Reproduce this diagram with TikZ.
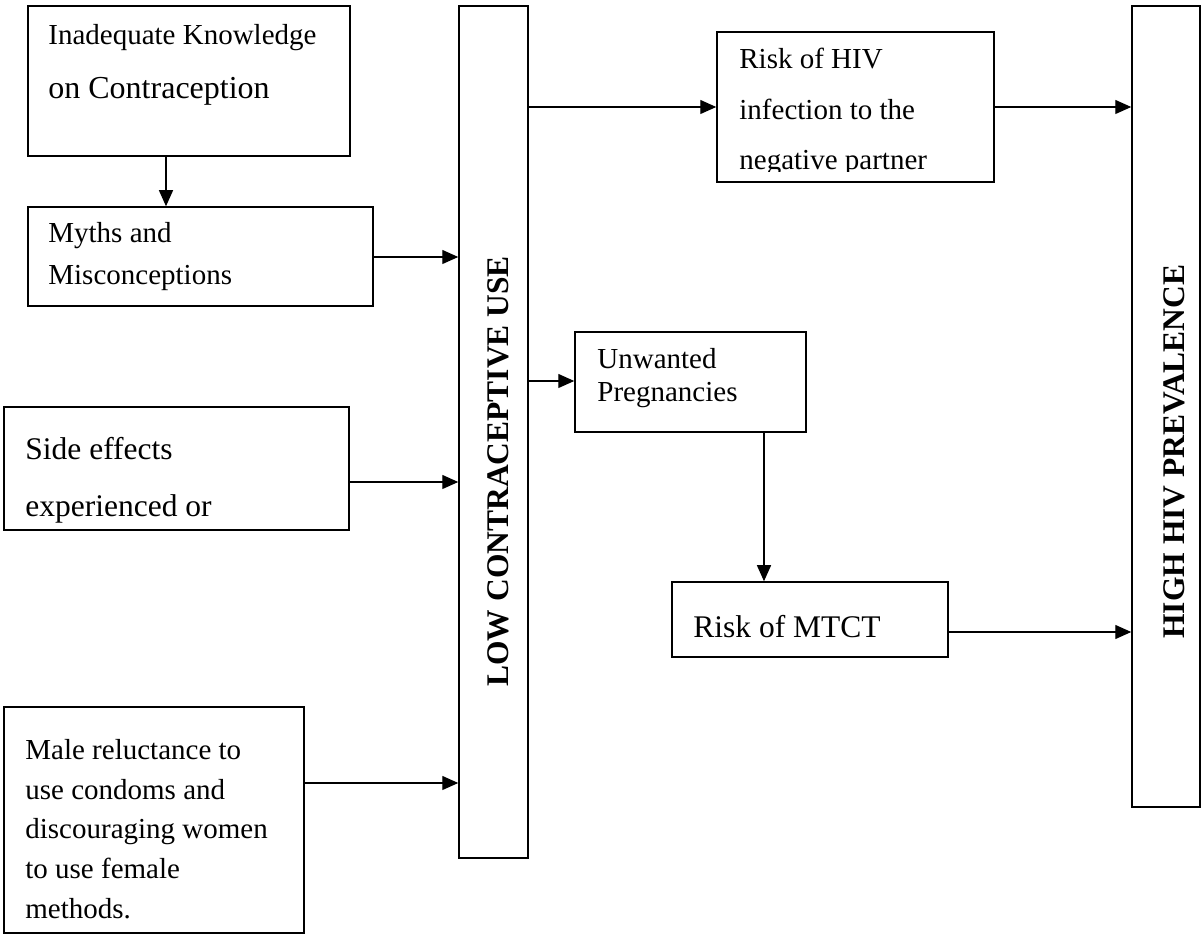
\documentclass[tikz,border=0pt]{standalone}
\usepackage{fontspec}
\setmainfont{Liberation Serif}
\usetikzlibrary{arrows.meta,fit}
\tikzset{
  boxnode/.style={draw, line width=0.75pt, inner sep=0pt},
  arr/.style={line width=0.65pt, -{Triangle[length=8pt,width=7pt]}},
  txt/.style={inner sep=0pt, anchor=base west, font=\fontsize{14.5}{17}\selectfont},
  txtb/.style={inner sep=0pt, anchor=base west, font=\fontsize{15.75}{18}\selectfont},
  vtxt/.style={inner sep=0pt, anchor=base west, rotate=90, font=\fontsize{15.75}{18}\selectfont\bfseries}
}
\newcommand{\mkbox}[5]{%
  \coordinate (#1-nw) at (#2,#3);
  \coordinate (#1-se) at (#4,#5);
  \node[boxnode, fit=(#1-nw)(#1-se)] (#1) {};
}
\begin{document}
\begin{tikzpicture}[x=0.5pt,y=-0.5pt]
\useasboundingbox (0,0) rectangle (1201,935);
% boxes
\mkbox{b1}{28}{6}{350}{156}
\mkbox{b2}{28}{207}{373}{306}
\mkbox{b3}{4}{407}{349}{530}
\mkbox{b4}{4}{707}{304}{933}
\mkbox{low}{459}{6}{528}{858}
\mkbox{hiv}{717}{32}{994}{182}
\mkbox{unw}{575}{332}{806}{432}
\mkbox{mtct}{672}{582}{948}{657}
\mkbox{high}{1132}{6}{1200}{807}
% texts
\node[txt] (t1a) at (48,45) {Inadequate Knowledge};
\node[txt, font=\fontsize{16}{19}\selectfont] (t1b) at (48,99) {on Contraception};
\node[txt] (t2a) at (48,243) {Myths and};
\node[txt] (t2b) at (48,285) {Misconceptions};
\node[txtb] (t3a) at (25,460) {Side effects};
\node[txtb] (t3b) at (25,517) {experienced or};
\node[txt] (t4a) at (25,760) {Male reluctance to};
\node[txt] (t4b) at (25,799.5) {use condoms and};
\node[txt] (t4c) at (25,839) {discouraging women};
\node[txt] (t4d) at (25,878.5) {to use female};
\node[txt] (t4e) at (25,918) {methods.};
\node[txt] (t6a) at (739,69) {Risk of HIV};
\node[txt] (t6b) at (739,120) {infection to the};
\begin{scope}
  \clip (717,32) rectangle (994,172);
  \node[txt] (t6c) at (739,170) {negative partner};
\end{scope}
\node[txt] (t7a) at (597,369) {Unwanted};
\node[txt] (t7b) at (597,402) {Pregnancies};
\node[txtb] (t8) at (693,638) {Risk of MTCT};
\node[vtxt] (tlow) at (508,687) {LOW CONTRACEPTIVE USE};
\node[vtxt] (thigh) at (1184,639) {HIGH HIV PREVALENCE};
% connectors
\draw[arr] (b1.south -| 166,0) -- (b2.north -| 166,0);
\draw[arr] (b2.east |- 0,257) -- (low.west |- 0,257);
\draw[arr] (b3.east |- 0,482) -- (low.west |- 0,482);
\draw[arr] (b4.east |- 0,783) -- (low.west |- 0,783);
\draw[arr] (low.east |- 0,107) -- (hiv.west |- 0,107);
\draw[arr] (hiv.east |- 0,107) -- (high.west |- 0,107);
\draw[arr] (low.east |- 0,381) -- (unw.west |- 0,381);
\draw[arr] (unw.south -| 764,0) -- (mtct.north -| 764,0);
\draw[arr] (mtct.east |- 0,632) -- (high.west |- 0,632);
\end{tikzpicture}
\end{document}
